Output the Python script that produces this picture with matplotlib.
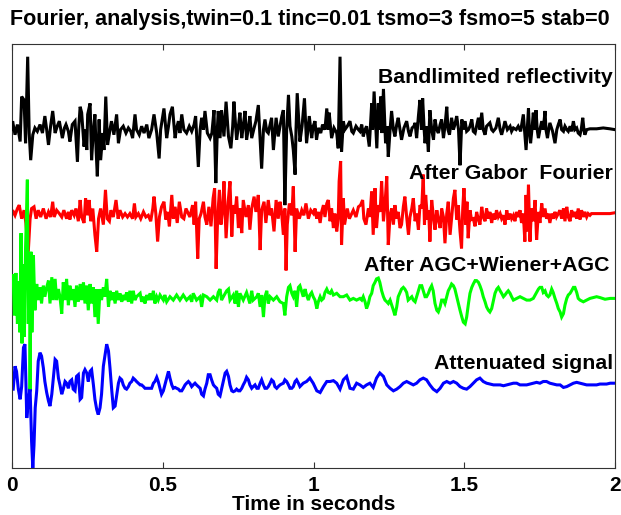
import numpy as np
import matplotlib
matplotlib.use("Agg")
import matplotlib.pyplot as plt

plt.rcParams['font.family'] = ['Liberation Sans', 'DejaVu Sans']
plt.rcParams['font.weight'] = 'bold'

# ---------------------------------------------------------------------------
# Traces (time in seconds, amplitude in trace-spacing units)
# ---------------------------------------------------------------------------
t_refl = [
    0.000, 0.002, 0.010, 0.018, 0.027, 0.032, 0.040, 0.045, 0.052, 0.057,
    0.062, 0.069, 0.076, 0.084, 0.093, 0.101, 0.109, 0.115, 0.121, 0.128,
    0.135, 0.143, 0.150, 0.157, 0.167, 0.174, 0.179, 0.187, 0.192, 0.200,
    0.209, 0.217, 0.221, 0.226, 0.231, 0.239, 0.244, 0.248, 0.251, 0.259,
    0.264, 0.270, 0.275, 0.279, 0.283, 0.289, 0.294, 0.301, 0.305, 0.311,
    0.317, 0.325, 0.330, 0.338, 0.347, 0.353, 0.360, 0.369, 0.378, 0.386,
    0.394, 0.400, 0.408, 0.413, 0.422, 0.430, 0.438, 0.447, 0.454, 0.463,
    0.471, 0.480, 0.488, 0.493, 0.504, 0.513, 0.519, 0.524, 0.532, 0.541,
    0.546, 0.552, 0.557, 0.563, 0.570, 0.579, 0.588, 0.596, 0.604, 0.609,
    0.618, 0.624, 0.629, 0.635, 0.640, 0.648, 0.657,
    0.663, 0.670, 0.676, 0.681, 0.684, 0.690, 0.695, 0.703, 0.710, 0.718,
    0.726, 0.732, 0.736, 0.745, 0.751, 0.756, 0.762, 0.767, 0.773, 0.778,
    0.784, 0.789, 0.795, 0.803, 0.809, 0.817, 0.822, 0.828, 0.834, 0.839,
    0.845, 0.850, 0.856, 0.861, 0.867, 0.876, 0.883, 0.889, 0.895, 0.900,
    0.905, 0.911, 0.917, 0.922, 0.928, 0.933, 0.939, 0.942, 0.946, 0.952,
    0.955, 0.962, 0.970, 0.977, 0.986, 0.994, 0.999, 1.005, 1.010, 1.016,
    1.024, 1.030, 1.038, 1.044, 1.049, 1.052, 1.060, 1.068, 1.077, 1.082,
    1.088, 1.093, 1.099, 1.104, 1.112, 1.121, 1.127, 1.132, 1.141, 1.149,
    1.154, 1.160, 1.165, 1.171, 1.176, 1.185, 1.193, 1.196, 1.201, 1.210,
    1.215, 1.218, 1.223, 1.227, 1.232, 1.239, 1.244, 1.248, 1.254, 1.259,
    1.265, 1.270, 1.276, 1.281, 1.287, 1.292, 1.300, 1.309, 1.315, 1.320,
    1.327, 1.333,
    1.337, 1.342, 1.348, 1.353, 1.358, 1.362, 1.367, 1.370, 1.375, 1.381,
    1.386, 1.392, 1.398, 1.403, 1.409, 1.414, 1.420, 1.425, 1.431, 1.436,
    1.442, 1.446, 1.451, 1.458, 1.464, 1.469, 1.475, 1.481, 1.486, 1.492,
    1.497, 1.503, 1.508, 1.514, 1.519, 1.525, 1.530, 1.536, 1.541, 1.547,
    1.552, 1.558, 1.563, 1.569, 1.574, 1.585, 1.591, 1.596, 1.605, 1.613,
    1.619, 1.624, 1.630, 1.635, 1.643, 1.652, 1.657, 1.663, 1.672, 1.679,
    1.687, 1.696, 1.700, 1.705, 1.709, 1.713, 1.716, 1.720, 1.725, 1.729,
    1.734, 1.738, 1.742, 1.746, 1.751, 1.757, 1.762, 1.768, 1.771, 1.776,
    1.780, 1.784, 1.793, 1.801, 1.807, 1.812, 1.818, 1.823, 1.829, 1.834,
    1.840, 1.845, 1.851, 1.856, 1.862, 1.867, 1.873, 1.878, 1.884, 1.888,
    1.893, 1.897, 1.900, 1.906, 1.917, 1.939, 1.961, 1.983, 2.000,
]
a_refl = [
    -0.01, 0.09, -0.07, 0.05, -0.15, 0.38, 0.34, -0.17, 0.85, -0.05,
    -0.37, -0.07, 0.01, -0.03, 0.05, -0.05, 0.15, -0.01, -0.19, 0.03,
    0.21, -0.05, 0.03, 0.09, -0.11, 0.01, 0.05, -0.03, -0.15, 0.05,
    0.09, -0.39, -0.01, 0.26, 0.19, -0.21, -0.01, -0.25, 0.17, 0.30,
    -0.37, -0.01, 0.17, -0.25, -0.56, 0.11, -0.37, -0.05, -0.25, 0.38,
    -0.19, -0.01, 0.09, -0.07, 0.17, -0.17, -0.01, 0.03, -0.05, 0.01,
    -0.03, -0.11, 0.17, -0.01, -0.07, 0.03, -0.05, 0.05, -0.11, -0.01,
    0.17, -0.05, -0.35, -0.01, 0.24, -0.11, 0.03, 0.17, 0.26, -0.11,
    0.01, 0.09, -0.05, 0.17, -0.01, -0.05, 0.03, -0.03, 0.05, 0.15,
    -0.45, -0.01, 0.13, -0.01, 0.21, -0.05, -0.11,
    -0.05, 0.22, -0.64, -0.01, 0.21, -0.11, 0.22, -0.09, 0.32, -0.09,
    -0.23, 0.03, 0.32, -0.13, 0.03, 0.19, -0.11, 0.03, 0.21, -0.13,
    0.01, 0.15, -0.11, 0.01, 0.09, 0.28, -0.07, -0.47, -0.01, 0.11,
    -0.03, -0.05, 0.05, 0.13, -0.25, 0.13, -0.09, 0.03, 0.15, 0.22,
    -0.90, -0.01, 0.40, 0.03, -0.09, -0.25, -0.54, -0.01, 0.42, 0.03,
    -0.15, 0.03, 0.36, -0.17, 0.15, -0.11, 0.03, 0.09, -0.13, 0.01,
    -0.05, 0.05, -0.01, 0.24, -0.01, 0.19, -0.11, 0.01, -0.05, -0.23,
    0.85, -0.27, 0.09, -0.01, 0.03, 0.09, -0.03, -0.05, 0.03, -0.01,
    -0.03, 0.05, -0.09, -0.01, 0.03, -0.21, 0.30, -0.01, 0.44, -0.23,
    0.30, -0.01, 0.38, -0.05, 0.47, -0.17, 0.03, -0.33, -0.01, 0.21,
    -0.01, -0.09, 0.05, 0.13, -0.01, -0.13, 0.01, 0.09, -0.03, -0.09,
    0.01, 0.03,
    0.07, -0.11, 0.15, 0.34, -0.01, 0.36, -0.01, -0.17, 0.03, -0.27,
    0.22, -0.01, -0.13, 0.11, -0.01, -0.05, 0.05, 0.11, -0.11, 0.03,
    0.26, -0.01, -0.07, 0.13, -0.01, 0.05, 0.15, -0.01, -0.43, 0.11,
    -0.01, 0.09, -0.03, -0.01, 0.03, 0.11, -0.03, -0.05, 0.03, 0.13,
    -0.01, 0.19, -0.01, -0.07, 0.03, 0.07, -0.01, -0.03, 0.01, 0.13,
    -0.01, -0.07, 0.01, 0.09, -0.01, 0.03, -0.03, 0.01, -0.01, 0.03,
    -0.03, 0.17, -0.01, -0.25, -0.01, 0.24, -0.01, -0.17, 0.01, 0.19,
    -0.01, 0.22, -0.01, -0.11, -0.01, 0.09, -0.01, 0.21, -0.01, -0.11,
    -0.01, 0.07, -0.03, -0.17, -0.01, 0.05, 0.11, -0.01, -0.03, 0.03,
    -0.01, -0.03, 0.03, -0.03, 0.09, -0.01, 0.01, -0.05, -0.07, -0.01,
    0.13, -0.01, -0.07, -0.01, 0.00, 0.00, 0.01, 0.00, -0.01,
]

t_gabor = [
    0.000, 0.002, 0.010, 0.018, 0.024, 0.032, 0.040, 0.046, 0.054, 0.060,
    0.065, 0.073, 0.080, 0.087, 0.095, 0.104, 0.113, 0.121, 0.128, 0.135,
    0.140, 0.148, 0.157, 0.165, 0.172, 0.181, 0.187, 0.192, 0.198, 0.206,
    0.212, 0.220, 0.226, 0.231, 0.239, 0.244, 0.250, 0.256, 0.261, 0.268,
    0.275, 0.281, 0.287, 0.294, 0.303, 0.310, 0.316, 0.323, 0.328, 0.336,
    0.345, 0.352, 0.358, 0.367, 0.375, 0.383, 0.391, 0.400, 0.406, 0.411,
    0.419, 0.427, 0.436, 0.444, 0.452, 0.460, 0.467, 0.471, 0.477, 0.483,
    0.489, 0.496, 0.504, 0.510, 0.516, 0.522, 0.530, 0.535, 0.541, 0.548,
    0.555, 0.563, 0.570, 0.577, 0.585, 0.590, 0.599, 0.604, 0.609, 0.616,
    0.621, 0.627, 0.635, 0.640, 0.646, 0.653, 0.660, 0.667, 0.672, 0.677,
    0.682, 0.688, 0.693, 0.699, 0.703, 0.710, 0.717, 0.723, 0.729, 0.734,
    0.740, 0.745, 0.751, 0.756, 0.762, 0.767, 0.776, 0.784, 0.789, 0.795,
    0.803, 0.809, 0.817, 0.823, 0.828, 0.836, 0.842, 0.850, 0.856, 0.861,
    0.869, 0.876, 0.883, 0.889, 0.894, 0.900, 0.905, 0.909, 0.913, 0.920,
    0.928, 0.933, 0.939, 0.944, 0.953, 0.961, 0.968, 0.975, 0.983, 0.991,
    1.000,
    1.005, 1.011, 1.016, 1.022, 1.027, 1.033, 1.038, 1.044, 1.049, 1.055,
    1.060, 1.066, 1.071, 1.077, 1.082, 1.085, 1.090, 1.093, 1.099, 1.103,
    1.108, 1.112, 1.119, 1.127, 1.132, 1.141, 1.149, 1.156, 1.163, 1.167,
    1.174, 1.182, 1.187, 1.193, 1.198, 1.204, 1.209, 1.215, 1.221, 1.226,
    1.232, 1.237, 1.243, 1.248, 1.254, 1.259, 1.265, 1.270, 1.276, 1.281,
    1.287, 1.292, 1.298, 1.303, 1.309, 1.315, 1.320, 1.326, 1.331, 1.337,
    1.342, 1.348, 1.353, 1.359, 1.364, 1.368, 1.372, 1.378, 1.382, 1.386,
    1.392, 1.398, 1.403, 1.409, 1.414, 1.420, 1.425, 1.431, 1.436, 1.442,
    1.447, 1.453, 1.458, 1.464, 1.469, 1.475, 1.480, 1.486, 1.491, 1.495,
    1.499, 1.505, 1.509, 1.513, 1.519, 1.524, 1.530, 1.536, 1.541, 1.547,
    1.552, 1.558, 1.563, 1.569, 1.574, 1.580, 1.585, 1.591, 1.596, 1.602,
    1.607, 1.613, 1.619, 1.624, 1.630, 1.635, 1.641, 1.646, 1.652, 1.657,
    1.663, 1.668, 1.674, 1.679, 1.685, 1.690, 1.696, 1.701, 1.705, 1.709,
    1.713, 1.718, 1.723, 1.729, 1.735, 1.740, 1.746, 1.751, 1.757, 1.762,
    1.768, 1.773, 1.779, 1.784, 1.790, 1.795, 1.801, 1.806, 1.812, 1.817,
    1.823, 1.829, 1.834, 1.840, 1.845, 1.851, 1.856, 1.862, 1.867, 1.873,
    1.878, 1.884, 1.889, 1.895, 1.900, 1.906, 1.911, 1.917, 1.922, 1.939,
    1.961, 1.983, 2.000,
]
a_gabor = [
    0.00, 0.04, -0.02, 0.06, 0.10, -0.06, 0.04, -0.11, -0.45, -0.06,
    0.06, 0.08, -0.06, 0.04, -0.04, 0.06, -0.06, 0.02, -0.04, 0.14,
    -0.04, 0.04, 0.00, -0.04, 0.04, -0.06, 0.02, -0.07, 0.04, -0.02,
    0.06, -0.09, 0.16, -0.04, -0.11, 0.18, -0.02, 0.16, -0.09, 0.06,
    -0.25, -0.45, -0.06, 0.06, -0.13, 0.28, -0.06, -0.09, 0.04, -0.04,
    0.16, -0.06, 0.04, -0.04, 0.00, -0.04, 0.00, -0.06, 0.12, -0.04,
    0.00, -0.06, 0.02, -0.04, -0.02, -0.09, 0.06, 0.20, 0.00, -0.33,
    -0.04, 0.08, 0.14, -0.07, 0.02, -0.15, 0.22, -0.06, 0.08, -0.11,
    0.14, -0.04, -0.06, 0.06, 0.00, -0.04, 0.10, -0.13, 0.14, -0.53,
    -0.06, 0.00, 0.14, -0.04, -0.13, 0.08, -0.15, 0.18, 0.30, -0.65,
    -0.06, 0.28, -0.13, 0.06, 0.38, -0.29, 0.14, 0.38, -0.27, 0.10,
    0.00, 0.20, -0.17, 0.06, -0.23, 0.16, -0.04, 0.10, -0.19, 0.06,
    0.20, 0.02, 0.22, -0.43, 0.04, 0.14, -0.11, 0.16, -0.02, 0.06,
    -0.21, 0.16, -0.06, 0.14, 0.02, -0.25, 0.06, -0.67, -0.13, 0.12,
    -0.02, 0.32, -0.45, 0.06, -0.06, 0.04, -0.02, 0.12, -0.06, 0.04,
    0.00,
    0.06, -0.06, 0.02, -0.11, 0.02, 0.10, -0.04, 0.12, 0.16, -0.09,
    0.06, -0.17, 0.00, -0.21, -0.06, 0.38, 0.62, -0.37, 0.18, -0.13,
    -0.02, 0.06, -0.06, 0.00, 0.04, -0.04, 0.08, 0.10, 0.16, -0.06,
    -0.13, 0.06, -0.04, 0.26, -0.25, 0.30, -0.17, 0.10, 0.02, 0.38,
    -0.09, 0.10, 0.44, -0.37, -0.02, 0.06, -0.13, 0.10, -0.06, 0.02,
    -0.17, -0.13, 0.08, 0.20, -0.04, -0.25, -0.04, 0.06, 0.18, -0.09,
    0.00, -0.19, 0.10, 0.06, 0.46, -0.13, 0.22, -0.07, 0.04, -0.33,
    0.16, -0.04, -0.19, 0.04, -0.07, -0.17, 0.06, -0.04, -0.35, 0.00,
    0.14, -0.25, -0.06, 0.18, 0.28, -0.07, 0.10, -0.21, -0.41, 0.06,
    0.30, -0.13, 0.14, -0.29, 0.04, -0.07, -0.06, -0.15, 0.02, -0.07,
    -0.13, 0.08, -0.04, -0.09, 0.06, -0.06, 0.02, -0.11, 0.00, -0.07,
    0.04, -0.04, 0.00, -0.06, -0.02, -0.13, 0.04, -0.07, 0.00, -0.06,
    -0.02, -0.09, 0.02, -0.04, 0.04, -0.11, 0.00, -0.33, 0.22, -0.21,
    0.34, -0.33, 0.06, -0.09, 0.16, -0.31, 0.02, -0.11, 0.12, -0.04,
    0.06, -0.06, 0.00, -0.11, 0.00, -0.06, 0.02, -0.04, 0.00, 0.04,
    -0.06, 0.06, -0.09, 0.08, -0.04, -0.09, 0.04, -0.04, 0.02, -0.06,
    0.06, -0.07, 0.04, -0.04, 0.02, -0.04, 0.00, -0.02, 0.00, 0.00,
    0.00, 0.00, 0.01,
]

t_wiener = [
    0.004, 0.008, 0.013, 0.018, 0.022, 0.026, 0.030, 0.033, 0.037, 0.041,
    0.045, 0.051, 0.054, 0.058, 0.060, 0.063, 0.066, 0.071, 0.076, 0.082,
    0.087, 0.093, 0.098, 0.104, 0.109, 0.115, 0.121, 0.126, 0.132, 0.137,
    0.143, 0.148, 0.154, 0.159, 0.165, 0.170, 0.176, 0.181, 0.187, 0.192,
    0.198, 0.203, 0.209, 0.214, 0.220, 0.226, 0.231, 0.237, 0.242, 0.248,
    0.253, 0.259, 0.264, 0.270, 0.275, 0.281, 0.286, 0.292, 0.297, 0.303,
    0.308, 0.314, 0.320, 0.325, 0.331, 0.336, 0.342, 0.347, 0.353, 0.358,
    0.364, 0.369, 0.375, 0.380, 0.386, 0.391, 0.397, 0.402, 0.408, 0.413,
    0.425, 0.430, 0.436, 0.441, 0.447, 0.452, 0.458, 0.463, 0.469, 0.474,
    0.480, 0.485, 0.491, 0.502, 0.507, 0.513, 0.524, 0.535, 0.546, 0.557,
    0.568, 0.579, 0.590, 0.596, 0.601, 0.612, 0.624, 0.629, 0.635, 0.646,
    0.657, 0.668, 0.679, 0.684, 0.690, 0.695, 0.701, 0.712, 0.718, 0.723,
    0.734, 0.740, 0.745, 0.751, 0.756, 0.767, 0.778, 0.789, 0.795, 0.800,
    0.812, 0.817, 0.823, 0.828, 0.834, 0.839, 0.845, 0.850, 0.856, 0.867,
    0.878, 0.889, 0.900, 0.905, 0.911, 0.917, 0.922, 0.928, 0.933, 0.939,
    0.944, 0.950, 0.955,
    0.966, 0.972, 0.977, 0.983, 0.988, 0.994, 0.999, 1.005, 1.011, 1.016,
    1.022, 1.027, 1.033, 1.038, 1.044, 1.049, 1.055, 1.060, 1.066, 1.077,
    1.088, 1.099, 1.110, 1.121, 1.132, 1.143, 1.154, 1.160, 1.165, 1.171,
    1.176, 1.182, 1.187, 1.193, 1.198, 1.204, 1.209, 1.215, 1.220, 1.226,
    1.232, 1.237, 1.243, 1.248, 1.254, 1.265, 1.270, 1.276, 1.281, 1.287,
    1.292, 1.298, 1.303, 1.309, 1.314, 1.320, 1.326, 1.331, 1.337, 1.342,
    1.348, 1.353, 1.359, 1.364, 1.370, 1.375, 1.381, 1.386, 1.392, 1.397,
    1.403, 1.409, 1.414, 1.420, 1.425, 1.431, 1.436, 1.442, 1.447, 1.453,
    1.458, 1.464, 1.469, 1.475, 1.480, 1.486, 1.492, 1.497, 1.503, 1.508,
    1.514, 1.519, 1.525, 1.530, 1.536, 1.541, 1.547, 1.552, 1.558, 1.563,
    1.569, 1.574, 1.580, 1.585, 1.591, 1.597, 1.602, 1.608, 1.613, 1.619,
    1.624, 1.630, 1.635, 1.641, 1.646, 1.652, 1.657, 1.663, 1.674, 1.685,
    1.696, 1.707, 1.718, 1.729, 1.740, 1.746, 1.751, 1.757, 1.762, 1.768,
    1.773, 1.779, 1.784, 1.790, 1.795, 1.801, 1.807, 1.812, 1.818, 1.823,
    1.829, 1.834, 1.840, 1.845, 1.851, 1.856, 1.862, 1.867, 1.873, 1.878,
    1.884, 1.895, 1.906, 1.917, 1.928, 1.939, 1.950, 1.967, 1.984, 2.000,
]
a_wiener = [
    0.27, -0.20, 0.30, -0.30, 0.20, -0.40, 0.77, -0.53, 0.40, -0.45,
    0.60, 1.40, -0.30, 0.50, -1.07, 0.55, -0.40, 0.51, -0.14, 0.17,
    -0.02, 0.13, -0.06, 0.15, 0.02, 0.13, 0.21, -0.06, 0.25, -0.02,
    0.23, -0.02, 0.11, 0.02, -0.18, 0.19, -0.02, 0.23, -0.08, 0.15,
    -0.02, 0.11, -0.10, 0.15, -0.04, 0.17, -0.02, 0.19, -0.06, 0.15,
    -0.14, 0.17, -0.06, 0.13, -0.22, 0.11, -0.30, 0.11, -0.02, 0.13,
    0.02, 0.23, -0.10, 0.09, -0.02, 0.07, -0.06, 0.09, -0.02, 0.06,
    -0.04, 0.04, -0.02, 0.07, -0.04, 0.09, -0.06, 0.09, -0.02, 0.02,
    0.06, -0.04, 0.02, -0.06, 0.04, -0.02, 0.06, -0.02, 0.09, -0.06,
    0.02, -0.02, 0.04, -0.02, 0.04, -0.04, 0.02, -0.02, 0.04, -0.02,
    0.04, -0.02, 0.02, -0.04, 0.06, -0.02, 0.02, -0.10, 0.04, 0.02,
    -0.02, 0.02, -0.02, 0.07, 0.11, -0.02, 0.02, 0.09, 0.11, -0.02,
    0.04, -0.06, 0.09, -0.10, 0.06, -0.02, 0.07, -0.06, 0.09, -0.02,
    0.02, 0.06, -0.10, 0.04, -0.22, 0.02, 0.09, -0.06, 0.02, -0.02,
    0.02, -0.04, -0.06, -0.20, 0.02, 0.13, 0.15, 0.06, 0.02, 0.09,
    -0.10, 0.13, 0.15,
    0.02, 0.11, 0.04, -0.02, 0.04, 0.07, 0.02, -0.02, -0.12, -0.04,
    0.02, -0.02, 0.00, 0.07, 0.11, 0.07, 0.06, 0.09, 0.04, 0.06,
    0.02, 0.02, 0.04, -0.02, 0.00, -0.02, 0.00, -0.02, 0.02, -0.04,
    -0.12, -0.06, 0.02, 0.06, 0.15, 0.19, 0.23, 0.24, 0.19, 0.09,
    0.02, -0.02, -0.04, -0.06, -0.02, -0.14, -0.20, -0.10, 0.02, 0.07,
    0.11, 0.13, 0.11, 0.07, -0.02, 0.00, 0.02, -0.02, -0.04, 0.02,
    0.09, 0.15, 0.15, 0.09, 0.02, 0.02, 0.06, 0.11, 0.15, 0.09,
    -0.06, -0.14, -0.16, -0.10, -0.02, -0.02, -0.06, 0.02, 0.09, 0.13,
    0.17, 0.15, 0.11, 0.02, -0.06, -0.14, -0.22, -0.28, -0.30, -0.22,
    -0.06, 0.06, 0.13, 0.17, 0.21, 0.21, 0.19, 0.15, 0.09, 0.02,
    -0.04, -0.10, -0.14, -0.16, -0.12, -0.02, 0.06, 0.11, 0.13, 0.09,
    0.06, 0.02, 0.04, 0.07, 0.09, 0.06, 0.02, -0.02, 0.00, 0.02,
    0.00, -0.02, -0.02, 0.00, 0.07, 0.11, 0.13, 0.13, 0.07, 0.09,
    0.04, 0.02, 0.04, 0.11, 0.07, 0.00, -0.06, -0.12, -0.16, -0.22,
    -0.18, -0.08, 0.00, 0.04, 0.06, 0.09, 0.13, 0.13, 0.07, 0.00,
    -0.02, -0.04, -0.02, 0.00, 0.01, 0.02, 0.01, -0.01, 0.00, 0.00,
]

t_atten = [
    0.004, 0.010, 0.015, 0.021, 0.027, 0.032, 0.038, 0.043, 0.049, 0.054,
    0.060, 0.065, 0.069, 0.073, 0.077, 0.082, 0.087, 0.093, 0.098, 0.104,
    0.109, 0.115, 0.121, 0.126, 0.132, 0.137, 0.143, 0.148, 0.154, 0.159,
    0.165, 0.170, 0.176, 0.181, 0.187, 0.192, 0.198, 0.203, 0.209, 0.214,
    0.220, 0.226, 0.231, 0.237, 0.242, 0.248, 0.253, 0.259, 0.264, 0.270,
    0.275, 0.281, 0.286, 0.292, 0.297, 0.303, 0.308, 0.314, 0.320, 0.325,
    0.331, 0.336, 0.342, 0.347, 0.353, 0.358, 0.364, 0.369, 0.375, 0.380,
    0.386, 0.391, 0.397, 0.402, 0.408, 0.413, 0.419, 0.425, 0.430, 0.436,
    0.441, 0.447, 0.452, 0.458, 0.463, 0.469, 0.474, 0.480, 0.485, 0.491,
    0.496, 0.502, 0.507, 0.513, 0.519, 0.524, 0.530, 0.535, 0.541, 0.546,
    0.552, 0.557, 0.563, 0.568, 0.574, 0.579, 0.585, 0.590, 0.596, 0.601,
    0.607, 0.612, 0.618, 0.624, 0.629, 0.635, 0.640, 0.646, 0.651, 0.657,
    0.662, 0.668, 0.673, 0.679, 0.684, 0.690, 0.695, 0.701, 0.707, 0.712,
    0.718, 0.723, 0.729, 0.734, 0.740, 0.745, 0.751, 0.756, 0.762, 0.767,
    0.773, 0.778, 0.784, 0.789, 0.795, 0.800, 0.806, 0.812, 0.817, 0.823,
    0.828, 0.834, 0.839, 0.845, 0.850, 0.856, 0.861, 0.867, 0.872, 0.878,
    0.883, 0.889, 0.894, 0.900, 0.905, 0.911, 0.917, 0.922, 0.928, 0.933,
    0.939, 0.944, 0.950, 0.955,
    0.966, 0.977, 0.988, 0.999, 1.011, 1.022, 1.033, 1.044, 1.055, 1.066,
    1.077, 1.088, 1.099, 1.110, 1.121, 1.132, 1.143, 1.154, 1.165, 1.176,
    1.187, 1.198, 1.209, 1.220, 1.232, 1.243, 1.254, 1.265, 1.276, 1.287,
    1.298, 1.309, 1.320, 1.331, 1.342, 1.353, 1.364, 1.375, 1.386, 1.397,
    1.409, 1.420, 1.431, 1.442, 1.453, 1.464, 1.475, 1.486, 1.497, 1.508,
    1.519, 1.530, 1.541, 1.552, 1.563, 1.574, 1.585, 1.597, 1.608, 1.619,
    1.630, 1.641, 1.652, 1.663, 1.674, 1.685, 1.696, 1.707, 1.718, 1.729,
    1.740, 1.751, 1.762, 1.773, 1.784, 1.795, 1.807, 1.818, 1.829, 1.840,
    1.851, 1.862, 1.873, 1.884, 1.895, 1.906, 1.917, 1.928, 1.939, 1.950,
    1.961, 1.972, 1.984, 2.000,
]
a_atten = [
    -0.07, 0.20, 0.14, -0.07, -0.19, -0.04, 0.42, 0.46, -0.41, -0.21,
    -0.06, -0.69, -1.00, -0.73, -0.29, -0.09, 0.26, 0.36, 0.32, 0.18,
    0.02, -0.11, -0.21, -0.27, -0.13, 0.06, 0.28, 0.26, 0.06, -0.02,
    -0.13, -0.07, 0.02, 0.00, -0.06, 0.02, 0.04, -0.07, -0.09, 0.08,
    0.10, -0.19, -0.17, 0.12, 0.16, 0.12, 0.02, 0.14, 0.16, -0.02,
    -0.19, -0.31, -0.37, -0.29, -0.13, 0.20, 0.32, 0.46, 0.38, 0.18,
    -0.09, -0.29, -0.27, -0.15, 0.00, 0.06, 0.04, -0.02, -0.06, -0.07,
    -0.04, 0.00, 0.02, 0.06, 0.04, 0.02, 0.00, -0.02, -0.02, -0.04,
    -0.06, -0.06, -0.06, -0.06, -0.06, 0.00, 0.02, 0.07, 0.02, -0.06,
    -0.13, -0.09, -0.02, 0.06, 0.14, 0.06, -0.02, -0.06, -0.05, -0.06,
    -0.07, -0.09, -0.09, -0.06, -0.02, 0.00, 0.02, 0.00, -0.04, -0.02,
    0.00, -0.02, -0.04, -0.06, -0.13, -0.15, -0.07, 0.00, 0.10, 0.10,
    0.04, -0.02, -0.04, -0.06, -0.13, -0.15, -0.07, 0.02, 0.12, 0.14,
    0.08, -0.02, -0.09, -0.10, -0.09, -0.07, -0.09, -0.09, -0.06, -0.02,
    0.02, 0.07, 0.04, -0.02, -0.06, -0.04, -0.02, -0.06, -0.06, 0.00,
    0.04, -0.02, -0.06, -0.06, -0.04, 0.00, 0.04, 0.02, -0.04, -0.06,
    -0.04, -0.02, -0.01, 0.00, 0.04, 0.02, -0.02, -0.06, -0.06, -0.04,
    0.02, 0.04, 0.00, -0.04,
    0.00, 0.02, 0.06, 0.00, -0.09, -0.11, -0.04, 0.02, 0.02, 0.03,
    0.00, -0.07, 0.04, 0.08, -0.06, -0.07, 0.00, -0.02, -0.05, -0.02,
    0.00, -0.05, 0.06, 0.12, 0.08, -0.02, -0.06, -0.09, -0.07, -0.04,
    0.00, 0.02, 0.00, -0.02, 0.00, 0.04, 0.06, 0.04, -0.02, -0.07,
    -0.10, -0.06, 0.00, 0.02, 0.00, 0.02, 0.00, -0.04, -0.06, -0.07,
    -0.04, 0.00, 0.04, 0.06, 0.02, 0.00, -0.01, -0.02, -0.02, -0.02,
    -0.03, -0.02, -0.01, 0.00, 0.00, -0.02, -0.02, -0.02, -0.01, 0.00,
    0.01, 0.00, 0.02, 0.02, 0.00, -0.01, -0.02, -0.02, -0.05, -0.04,
    -0.02, 0.00, 0.01, 0.00, -0.01, -0.02, -0.02, -0.02, -0.02, -0.01,
    -0.01, -0.01, 0.00, 0.00,
]

trace_names = ["Bandlimited reflectivity", "After Gabor  Fourier",
               "After AGC+Wiener+AGC", "Attenuated signal"]
trace_offsets = [4.0, 3.0, 2.0, 1.0]
trace_colors = ["#000000", "#ff0000", "#00ff00", "#0000ff"]
label_y = [4.54, 3.41, 2.32, 1.17]
label_x = [1.993, 1.993, 1.983, 1.993]
title_text = "Fourier, analysis,twin=0.1 tinc=0.01 tsmo=3 fsmo=5 stab=0"
xticks = [0, 0.5, 1, 1.5, 2]
xtick_labels = ["0", "0.5", "1", "1.5", "2"]

# ---------------------------------------------------------------------------
W, H = 621, 515
fig = plt.figure(figsize=(W / 100, H / 100), dpi=100)
ax = fig.add_axes([12 / W, 47 / H, 603 / W, 424 / H])

series = [(t_refl, a_refl), (t_gabor, a_gabor),
          (t_wiener, a_wiener), (t_atten, a_atten)]
zorders = [5, 2, 4, 1]
for (tt, aa), off, col, zo in zip(series, trace_offsets, trace_colors, zorders):
    ax.plot(np.asarray(tt), np.asarray(aa) + off, color=col, lw=2.2,
            solid_joinstyle='miter', zorder=zo)

for name, x, y in zip(trace_names, label_x, label_y):
    ax.text(x, y, name, ha='right', va='baseline', fontsize=15.3,
            fontweight='bold', zorder=10)

ax.set_xlim(0, 2)
ax.set_ylim(0, 5)
ax.set_xticks(xticks)
ax.set_xticklabels(xtick_labels)
ax.set_yticks([])
ax.tick_params(axis='x', direction='in', length=4, width=0.8, top=True,
               bottom=True, labelsize=15, pad=6, color='#333333')
for lbl in ax.get_xticklabels():
    lbl.set_fontweight('bold')
for sp in ax.spines.values():
    sp.set_color('#333333')
    sp.set_linewidth(0.8)

ax.set_xlabel("Time in seconds", fontsize=15, fontweight='bold', labelpad=0)
fig.text(310 / W, 1 - 19 / H, title_text, ha='center', va='center',
         fontsize=15.5, fontweight='bold')

fig.savefig("out.png", dpi=100)
